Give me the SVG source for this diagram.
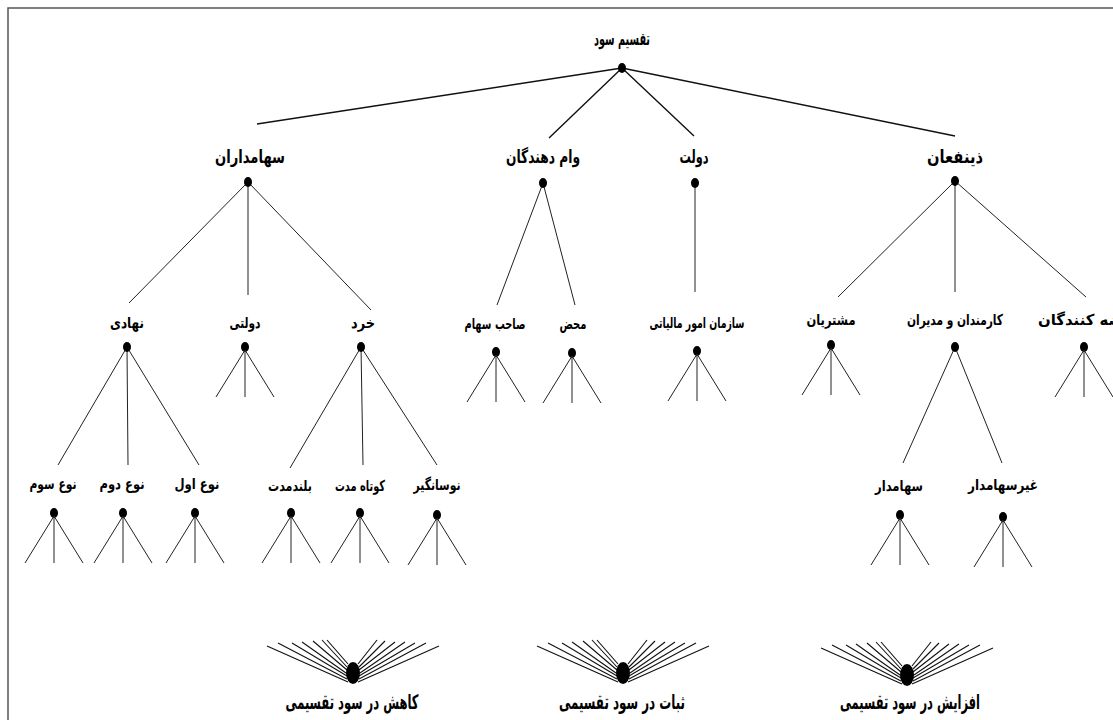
<svg xmlns="http://www.w3.org/2000/svg" xmlns:xlink="http://www.w3.org/1999/xlink" width="1113" height="720" viewBox="0 0 1113 720">
<style>
  text { font-family: "DejaVu Sans", "Noto Sans", sans-serif; font-weight: bold; fill: #000; text-anchor: middle; }
  .t1 { font-size: 18px; }
  .t2 { font-size: 15px; }
  .t3 { font-size: 15px; }
  .tk { font-size: 15px; }
  .tb { font-size: 20px; }
  .edge { stroke: #222; stroke-width: 1; fill: none; }
  .edge0 { stroke: #111; stroke-width: 1.4; fill: none; }
  .dot { fill: #000; }
  .frame { fill: none; stroke: #555; stroke-width: 1.5; }
</style>
<defs>
  <path id="stub" d="M0,3 L-29,50 M0,3 L0,50 M0,3 L29,50" stroke="#222" stroke-width="1" fill="none"/>
  <g id="book">
    <path d="M-26,-33 L-5,-9 M-31,-33 L-6,-6 M-40,-32 L-6,-3 M-51,-31 L-7,0 M-61,-30 L-6,3 M-75,-30 L-6,6 M-86,-27 L-5,9 M24,-33 L5,-9 M32,-32 L6,-6 M42,-31 L6,-3 M52,-31 L7,0 M62,-30 L6,3 M73,-30 L6,6 M86,-27 L5,9" stroke="#111" stroke-width="1.1" fill="none"/>
    <ellipse cx="0" cy="0" rx="7" ry="11" fill="#000"/>
  </g>
</defs>
<rect class="frame" x="8" y="8" width="1200" height="800"/>

<g id="connectors">
  <path class="edge0" d="M622,68 L257,124 M622,68 L549,138 M622,68 L694,136 M622,68 L955,136"/>
  <path class="edge" d="M248,182 L129,303 M248,182 L248,295 M248,182 L371,310"/>
  <path class="edge" d="M543,183 L497,305 M543,183 L575,305"/>
  <path class="edge" d="M695,183 L695,292"/>
  <path class="edge" d="M955,181 L838,297 M955,181 L955,292 M955,181 L1086,297"/>
  <path class="edge" d="M127,347 L58,465 M127,347 L128,465 M127,347 L199,465"/>
  <path class="edge" d="M361,347 L290,468 M361,347 L363,465 M361,347 L437,465"/>
  <path class="edge" d="M955,347 L903,463 M955,347 L1002,463"/>
</g>

<g id="n-root"><text class="t1" x="622" y="45" textLength="56" lengthAdjust="spacingAndGlyphs">تقسیم سود</text><ellipse class="dot" cx="622" cy="68" rx="4" ry="5"/></g>

<g id="n-sahamdaran"><text class="t1" x="250" y="163" textLength="70" lengthAdjust="spacingAndGlyphs">سهامداران</text><ellipse class="dot" cx="248" cy="182" rx="4" ry="5"/></g>
<g id="n-vamdahandegan"><text class="t1" x="543" y="163" textLength="74" lengthAdjust="spacingAndGlyphs">وام دهندگان</text><ellipse class="dot" cx="543" cy="183" rx="4" ry="5"/></g>
<g id="n-dolat"><text class="t1" x="694" y="163" textLength="29" lengthAdjust="spacingAndGlyphs">دولت</text><ellipse class="dot" cx="695" cy="183" rx="4" ry="5"/></g>
<g id="n-zinafan"><text class="t1" x="955" y="163" textLength="56" lengthAdjust="spacingAndGlyphs">ذینفعان</text><ellipse class="dot" cx="955" cy="181" rx="4" ry="5"/></g>

<g id="n-nahadi"><text class="t2" x="127" y="328" textLength="34" lengthAdjust="spacingAndGlyphs">نهادی</text><ellipse class="dot" cx="127" cy="347" rx="4" ry="5"/></g>
<g id="n-dolati"><text class="t2" x="245" y="328" textLength="31" lengthAdjust="spacingAndGlyphs">دولتی</text><ellipse class="dot" cx="245" cy="347" rx="4" ry="5"/><use xlink:href="#stub" x="245" y="347"/></g>
<g id="n-khord"><text class="t2" x="363" y="328" textLength="24" lengthAdjust="spacingAndGlyphs">خرد</text><ellipse class="dot" cx="361" cy="347" rx="4" ry="5"/></g>
<g id="n-saheb"><text class="t2" x="495" y="329" textLength="61" lengthAdjust="spacingAndGlyphs">صاحب سهام</text><ellipse class="dot" cx="496" cy="352" rx="4" ry="5"/><use xlink:href="#stub" x="496" y="352"/></g>
<g id="n-mahz"><text class="t2" x="573" y="329" textLength="27" lengthAdjust="spacingAndGlyphs">محض</text><ellipse class="dot" cx="572" cy="353" rx="4" ry="5"/><use xlink:href="#stub" x="572" y="353"/></g>
<g id="n-maliat"><text class="t2" x="697" y="328" textLength="95" lengthAdjust="spacingAndGlyphs">سازمان امور مالیاتی</text><ellipse class="dot" cx="697" cy="351" rx="4" ry="5"/><use xlink:href="#stub" x="697" y="351"/></g>
<g id="n-moshtarian"><text class="t2" x="831" y="325" textLength="49" lengthAdjust="spacingAndGlyphs">مشتریان</text><ellipse class="dot" cx="831" cy="345" rx="4" ry="5"/><use xlink:href="#stub" x="831" y="345"/></g>
<g id="n-karmandan"><text class="tk" x="955" y="325" textLength="96" lengthAdjust="spacingAndGlyphs">کارمندان و مدیران</text><ellipse class="dot" cx="955" cy="347" rx="4" ry="5"/></g>
<g id="n-gharz"><text class="t2" x="1090" y="325" textLength="104" lengthAdjust="spacingAndGlyphs">قرضه کنندگان</text><ellipse class="dot" cx="1084" cy="347" rx="4" ry="5"/><use xlink:href="#stub" x="1084" y="347"/></g>

<g id="n-no3"><text class="t3" x="53" y="489" textLength="47" lengthAdjust="spacingAndGlyphs">نوع سوم</text><ellipse class="dot" cx="54" cy="513" rx="4" ry="5"/><use xlink:href="#stub" x="54" y="513"/></g>
<g id="n-no2"><text class="t3" x="122" y="489" textLength="45" lengthAdjust="spacingAndGlyphs">نوع دوم</text><ellipse class="dot" cx="123" cy="513" rx="4" ry="5"/><use xlink:href="#stub" x="123" y="513"/></g>
<g id="n-no1"><text class="t3" x="197" y="489" textLength="45" lengthAdjust="spacingAndGlyphs">نوع اول</text><ellipse class="dot" cx="195" cy="513" rx="4" ry="5"/><use xlink:href="#stub" x="195" y="513"/></g>
<g id="n-boland"><text class="t3" x="290" y="491" textLength="44" lengthAdjust="spacingAndGlyphs">بلندمدت</text><ellipse class="dot" cx="291" cy="513" rx="4" ry="5"/><use xlink:href="#stub" x="291" y="513"/></g>
<g id="n-kootah"><text class="t3" x="360" y="491" textLength="50" lengthAdjust="spacingAndGlyphs">کوتاه مدت</text><ellipse class="dot" cx="360" cy="513" rx="4" ry="5"/><use xlink:href="#stub" x="360" y="513"/></g>
<g id="n-navasan"><text class="t3" x="437" y="490" textLength="47" lengthAdjust="spacingAndGlyphs">نوسانگیر</text><ellipse class="dot" cx="437" cy="515" rx="4" ry="5"/><use xlink:href="#stub" x="437" y="515"/></g>
<g id="n-sahamdar"><text class="t2" x="899" y="491" textLength="48" lengthAdjust="spacingAndGlyphs">سهامدار</text><ellipse class="dot" cx="900" cy="515" rx="4" ry="5"/><use xlink:href="#stub" x="900" y="515"/></g>
<g id="n-gheyr"><text class="t2" x="1003" y="490" textLength="70" lengthAdjust="spacingAndGlyphs">غیرسهامدار</text><ellipse class="dot" cx="1003" cy="517" rx="4" ry="5"/><use xlink:href="#stub" x="1003" y="517"/></g>

<g id="n-kahesh"><use xlink:href="#book" x="353" y="673"/><text class="tb" x="352" y="709" textLength="133" lengthAdjust="spacingAndGlyphs">کاهش در سود تقسیمی</text></g>
<g id="n-sobat"><use xlink:href="#book" x="623" y="673"/><text class="tb" x="622" y="709" textLength="126" lengthAdjust="spacingAndGlyphs">ثبات در سود تقسیمی</text></g>
<g id="n-afzayesh"><use xlink:href="#book" x="907" y="675"/><text class="tb" x="910" y="709" textLength="140" lengthAdjust="spacingAndGlyphs">افزایش در سود تقسیمی</text></g>
</svg>
